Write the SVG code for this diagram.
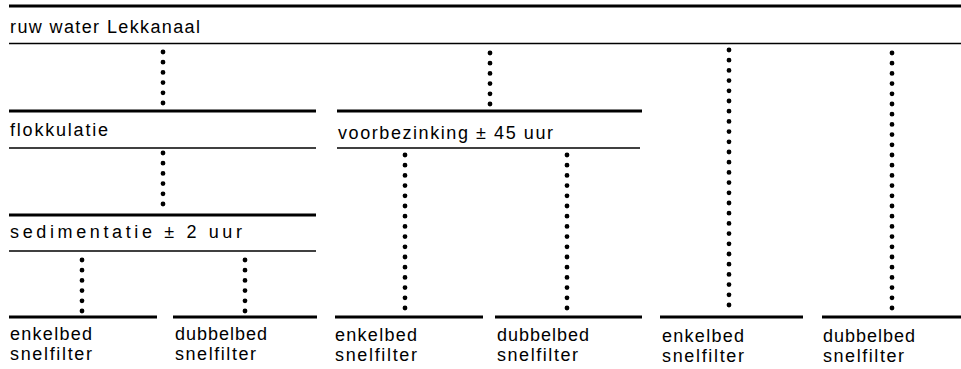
<svg xmlns="http://www.w3.org/2000/svg" width="961" height="369" viewBox="0 0 961 369">
  <style>
    .thick { stroke: #000; stroke-width: 3; fill: none; }
    .thin { stroke: #000; stroke-width: 1.4; fill: none; }
    .flow { stroke: #000; stroke-width: 4.8; stroke-linecap: round; stroke-dasharray: 0 10.2; fill: none; }
    .lbl { font-family: "Liberation Sans", Arial, sans-serif; font-size: 18px; fill: #000; }
  </style>
  <rect width="961" height="369" fill="#fff"/>

  <!-- raw water intake -->
  <g id="ruw-water">
    <line class="thick" x1="9" y1="6" x2="961" y2="6"/>
    <line class="thin" x1="9" y1="43.5" x2="961" y2="43.5"/>
    <text class="lbl" x="10" y="33" textLength="190" lengthAdjust="spacing">ruw water Lekkanaal</text>
  </g>

  <g id="flokkulatie">
    <line class="thick" x1="9" y1="111" x2="316" y2="111"/>
    <line class="thin" x1="9" y1="148" x2="316" y2="148"/>
    <text class="lbl" x="10" y="136" textLength="98" lengthAdjust="spacing">flokkulatie</text>
  </g>

  <g id="sedimentatie">
    <line class="thick" x1="9" y1="215" x2="316" y2="215"/>
    <line class="thin" x1="9" y1="251" x2="316" y2="251"/>
    <text class="lbl" x="10" y="238" textLength="232" lengthAdjust="spacing">sedimentatie ± 2 uur</text>
  </g>

  <g id="voorbezinking">
    <line class="thick" x1="337" y1="111" x2="642" y2="111"/>
    <line class="thin" x1="337" y1="148" x2="640" y2="148"/>
    <text class="lbl" x="338" y="139" textLength="215" lengthAdjust="spacing">voorbezinking ± 45 uur</text>
  </g>

  <!-- filter end points -->
  <g id="filter-1">
    <line class="thick" x1="9" y1="317" x2="157" y2="317"/>
    <text class="lbl" x="10" y="340" textLength="82" lengthAdjust="spacing">enkelbed</text>
    <text class="lbl" x="10" y="360" textLength="82" lengthAdjust="spacing">snelfilter</text>
  </g>
  <g id="filter-2">
    <line class="thick" x1="173" y1="317" x2="317" y2="317"/>
    <text class="lbl" x="175" y="340" textLength="92" lengthAdjust="spacing">dubbelbed</text>
    <text class="lbl" x="175" y="360" textLength="81" lengthAdjust="spacing">snelfilter</text>
  </g>
  <g id="filter-3">
    <line class="thick" x1="335" y1="317" x2="483" y2="317"/>
    <text class="lbl" x="335" y="341" textLength="82" lengthAdjust="spacing">enkelbed</text>
    <text class="lbl" x="335" y="361" textLength="82" lengthAdjust="spacing">snelfilter</text>
  </g>
  <g id="filter-4">
    <line class="thick" x1="495" y1="317" x2="642" y2="317"/>
    <text class="lbl" x="497" y="341" textLength="92" lengthAdjust="spacing">dubbelbed</text>
    <text class="lbl" x="497" y="361" textLength="81" lengthAdjust="spacing">snelfilter</text>
  </g>
  <g id="filter-5">
    <line class="thick" x1="660" y1="317" x2="803" y2="317"/>
    <text class="lbl" x="662" y="342" textLength="82" lengthAdjust="spacing">enkelbed</text>
    <text class="lbl" x="662" y="362" textLength="82" lengthAdjust="spacing">snelfilter</text>
  </g>
  <g id="filter-6">
    <line class="thick" x1="822" y1="317" x2="961" y2="317"/>
    <text class="lbl" x="823" y="342" textLength="92" lengthAdjust="spacing">dubbelbed</text>
    <text class="lbl" x="823" y="362" textLength="81" lengthAdjust="spacing">snelfilter</text>
  </g>

  <!-- dotted flow connectors -->
  <g id="connectors">
    <path class="flow" d="M163 52 V103"/>
    <path class="flow" d="M490 53 V104"/>
    <path class="flow" d="M163 153 V208"/>
    <path class="flow" d="M82 260 V311"/>
    <path class="flow" d="M245 260 V311"/>
    <path class="flow" d="M405 155 V311"/>
    <path class="flow" d="M567 155 V311"/>
    <path class="flow" d="M729 50 V311"/>
    <path class="flow" d="M892 53 V311"/>
  </g>
</svg>
